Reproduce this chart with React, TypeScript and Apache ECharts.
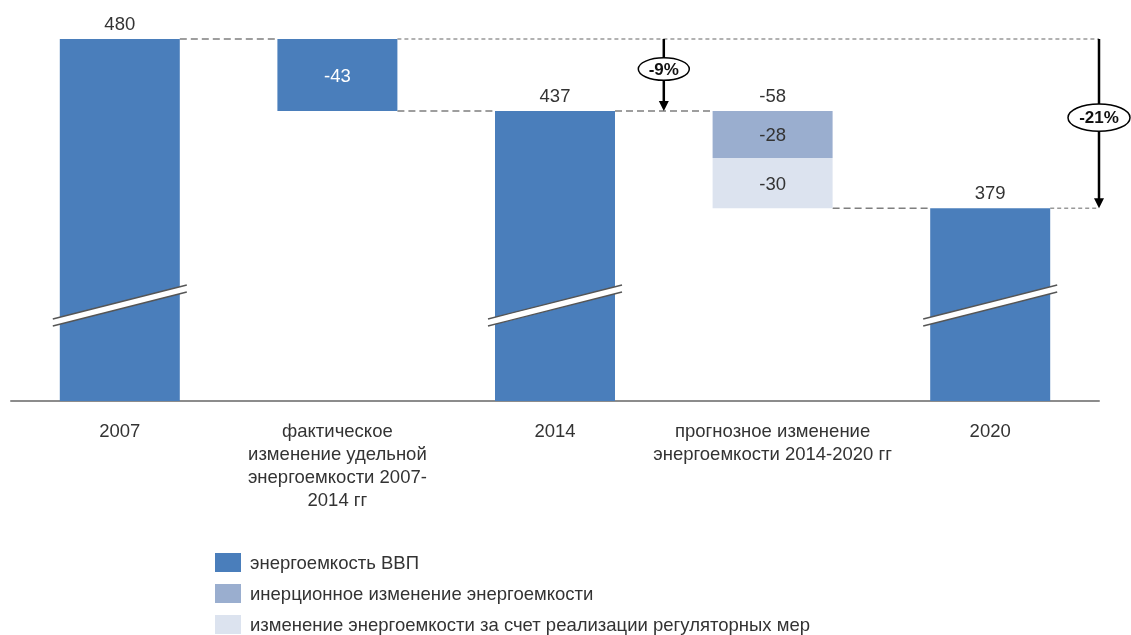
import React, { useEffect, useRef } from 'react';
import * as echarts from 'echarts';

// ---- data ----
const categories = [
  '2007',
  'фактическое\nизменение удельной\nэнергоемкости 2007-\n2014 гг',
  '2014',
  'прогнозное изменение\nэнергоемкости 2014-2020 гг',
  '2020',
];
const totalIndices = [0, 2, 4];
const totalValues = [480, 437, 379];
const actualChange = -43;
const forecastInertial = -28;
const forecastRegulatory = -30;
const forecastTotal = -58;
const arrowLabels = ['-9%', '-21%'];
const seriesNames = [
  'энергоемкость ВВП',
  'инерционное изменение энергоемкости',
  'изменение энергоемкости за счет реализации регуляторных мер',
];
const axisMin = 264;
const axisMax = 480;
const breakValue = 321;

const FONT = '"Liberation Sans", Arial, sans-serif';
const BLUE = '#4A7EBB';
const MID = '#9AAECF';
const LIGHT = '#DCE3EF';
const BAR_W = 120;
const FS = 18.5;

export default function App() {
  const ref = useRef<HTMLDivElement>(null);
  useEffect(() => {
    if (!ref.current) return;
    const chart = echarts.init(ref.current, undefined, { renderer: 'svg' });

    const base: any[] = ['-', totalValues[1], '-', totalValues[2], '-'];
    const main: any[] = [
      { value: totalValues[0], label: { show: true, position: 'top', distance: 6, color: '#333', formatter: String(totalValues[0]) } },
      { value: Math.abs(actualChange), label: { show: true, position: 'inside', color: '#fff', formatter: String(actualChange) } },
      { value: totalValues[1], label: { show: true, position: 'top', distance: 6, color: '#333', formatter: String(totalValues[1]) } },
      '-',
      { value: totalValues[2], label: { show: true, position: 'top', distance: 6, color: '#333', formatter: String(totalValues[2]) } },
    ];
    const regul: any[] = ['-', '-', '-', { value: Math.abs(forecastRegulatory), label: { show: true, position: 'inside', color: '#333', formatter: String(forecastRegulatory) } }, '-'];
    const inert: any[] = ['-', '-', '-', { value: Math.abs(forecastInertial), label: { show: true, position: 'inside', color: '#333', formatter: String(forecastInertial) } }, '-'];

    // connectors: [fromIdx, toIdx, value, kind]
    const connectors = [
      [0, 1, totalValues[0], 0],
      [1, 5, totalValues[0], 1],
      [1, 2, totalValues[1], 0],
      [2, 3, totalValues[1], 0],
      [3, 4, totalValues[2], 0],
      [4, 5, totalValues[2], 1],
    ];
    // arrows: [idx, bandOffset, from, to, labelIndex]
    const arrows = [
      [2, 0.5, totalValues[0], totalValues[1], 0],
      [4, 0.5, totalValues[0], totalValues[2], 1],
    ];
    const breaks = totalIndices.map((i) => [i, breakValue]);
    const topLabels = [[3, totalValues[1], String(forecastTotal)]];

    const legendOrder = [seriesNames[0], seriesNames[1], seriesNames[2]];
    const legends = legendOrder.map((name, i) => ({
      orient: 'vertical',
      left: 210,
      top: 548 + i * 31,
      itemWidth: 26,
      itemHeight: 19,
      icon: 'rect',
      data: [name],
      selectedMode: false,
      textStyle: { fontSize: FS, color: '#333', fontFamily: FONT, padding: [0, 0, 0, 4] },
    }));

    const option: any = {
      animation: false,
      textStyle: { fontFamily: FONT, fontSize: FS },
      grid: { left: 11, right: 32, top: 39, bottom: 234, containLabel: false },
      legend: legends,
      xAxis: {
        type: 'category',
        data: categories,
        axisLine: { lineStyle: { color: '#8c8c8c', width: 2 } },
        axisTick: { show: false },
        axisLabel: { interval: 0, fontSize: FS, lineHeight: 23, color: '#333', margin: 18, fontFamily: FONT },
      },
      yAxis: { type: 'value', min: axisMin, max: axisMax, show: false, splitLine: { show: false } },
      series: [
        { name: 'base', type: 'bar', stack: 'w', data: base, barWidth: BAR_W, itemStyle: { color: 'transparent' }, silent: true, clip: true },
        { name: seriesNames[0], type: 'bar', stack: 'w', data: main, barWidth: BAR_W, itemStyle: { color: BLUE }, label: { fontSize: FS, fontFamily: FONT }, clip: true, z: 3 },
        { name: seriesNames[2], type: 'bar', stack: 'w', data: regul, barWidth: BAR_W, itemStyle: { color: LIGHT }, label: { fontSize: FS, fontFamily: FONT }, clip: true, z: 3 },
        { name: seriesNames[1], type: 'bar', stack: 'w', data: inert, barWidth: BAR_W, itemStyle: { color: MID }, label: { fontSize: FS, fontFamily: FONT }, clip: true, z: 3 },
        {
          type: 'custom',
          name: 'connectors',
          z: 1,
          silent: true,
          encode: { x: 0, y: 2 },
          data: connectors,
          renderItem: (params: any, api: any) => {
            const from = api.value(0);
            const to = api.value(1);
            const v = api.value(2);
            const kind = api.value(3);
            const band = api.size([1, 0])[0];
            const p0 = api.coord([from, v]);
            const xa = p0[0] + BAR_W / 2;
            let xb;
            if (to >= categories.length) xb = api.coord([categories.length - 1, v])[0] + band / 2;
            else xb = api.coord([to, v])[0] - BAR_W / 2;
            return {
              type: 'line',
              shape: { x1: xa, y1: p0[1], x2: xb, y2: p0[1] },
              style: kind === 0
                ? { stroke: '#7f7f7f', lineWidth: 1.6, lineDash: [7, 4] }
                : { stroke: '#999', lineWidth: 1.4, lineDash: [4, 3] },
            };
          },
        },
        {
          type: 'custom',
          name: 'breaks',
          z: 6,
          silent: true,
          data: breaks,
          renderItem: (params: any, api: any) => {
            const c = api.coord([api.value(0), api.value(1)]);
            const hw = 67, rise = 17, t = 3.5;
            const x1 = c[0] - hw, x2 = c[0] + hw;
            const yl = c[1] + rise, yr = c[1] - rise;
            return {
              type: 'group',
              children: [
                { type: 'polygon', shape: { points: [[x1, yl - t], [x2, yr - t], [x2, yr + t], [x1, yl + t]] }, style: { fill: '#fff' } },
                { type: 'line', shape: { x1, y1: yl - t, x2, y2: yr - t }, style: { stroke: '#555', lineWidth: 1.4 } },
                { type: 'line', shape: { x1, y1: yl + t, x2, y2: yr + t }, style: { stroke: '#555', lineWidth: 1.4 } },
              ],
            };
          },
        },
        {
          type: 'custom',
          name: 'arrows',
          z: 7,
          silent: true,
          encode: { x: 0, y: 2 },
          data: arrows,
          renderItem: (params: any, api: any) => {
            const idx = api.value(0);
            const off = api.value(1);
            const band = api.size([1, 0])[0];
            const pTop = api.coord([idx, api.value(2)]);
            const pBot = api.coord([idx, api.value(3)]);
            const x = pTop[0] + off * band;
            const label = arrowLabels[api.value(4)];
            const head = 10;
            const w = 18 + 11 * label.length;
            const rx = w / 2, ry = 0.22 * w;
            const cy = (pTop[1] + pBot[1]) / 2 - 6;
            return {
              type: 'group',
              children: [
                { type: 'line', shape: { x1: x, y1: pTop[1], x2: x, y2: pBot[1] - head + 1 }, style: { stroke: '#000', lineWidth: 2.5 } },
                { type: 'polygon', shape: { points: [[x - 5, pBot[1] - head], [x + 5, pBot[1] - head], [x, pBot[1]]] }, style: { fill: '#000' } },
                { type: 'ellipse', shape: { cx: x, cy, rx, ry }, style: { fill: '#fff', stroke: '#000', lineWidth: 1.5 } },
                {
                  type: 'text', x, y: cy,
                  style: { text: label, fill: '#111', fontSize: 17, fontWeight: 'bold', fontFamily: FONT, align: 'center', verticalAlign: 'middle', textAlign: 'center', textVerticalAlign: 'middle' },
                },
              ],
            };
          },
        },
        {
          type: 'custom',
          name: 'toplabels',
          z: 7,
          silent: true,
          data: topLabels,
          renderItem: (params: any, api: any) => {
            const item = topLabels[params.dataIndex];
            const p = api.coord([item[0], item[1]]);
            return {
              type: 'text', x: p[0], y: p[1] - 6,
              style: { text: String(item[2]), fill: '#333', fontSize: FS, fontFamily: FONT, align: 'center', verticalAlign: 'bottom', textAlign: 'center', textVerticalAlign: 'bottom' },
            };
          },
        },
      ],
    };
    chart.setOption(option);
    return () => chart.dispose();
  }, []);
  return <div ref={ref} style={{ position: 'fixed', left: 0, top: 0, width: 1131, height: 635 }} />;
}
